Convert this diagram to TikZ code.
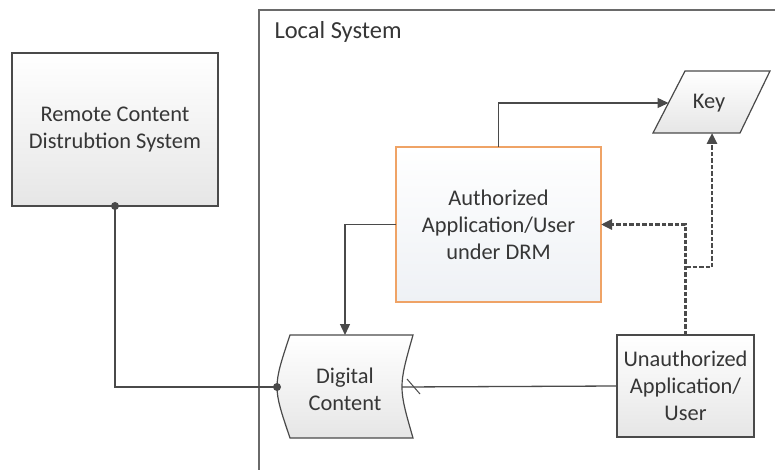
\documentclass[tikz,border=0pt]{standalone}
\usepackage{fontspec}
\setmainfont{Carlito}
\usetikzlibrary{arrows.meta}
\definecolor{linegray}{HTML}{4A4A4A}
\definecolor{framegray}{HTML}{6A6A6A}
\definecolor{textgray}{HTML}{363636}
\definecolor{drmorange}{HTML}{EFA366}
\definecolor{fillbottom}{HTML}{E6E6E6}
\definecolor{drmbottom}{HTML}{EEF1F5}
\begin{document}
\begin{tikzpicture}[x=1pt,y=-1pt,
  label/.style={font=\fontsize{22.4}{27}\selectfont, text=textgray, align=center},
  box/.style={label, draw=linegray, line width=1.2pt, outer sep=0pt, inner sep=0pt,
    top color=white, bottom color=fillbottom},
  drmbox/.style={box, draw=drmorange, top color=white, bottom color=drmbottom},
  shapefill/.style={draw=linegray, line width=1.2pt, top color=white, bottom color=fillbottom},
  conn/.style={draw=linegray, line width=1.3pt},
  tip/.style={-{Triangle[length=11pt,width=10pt]}},
  dashconn/.style={draw=linegray, line width=2.6pt, dash pattern=on 4.5pt off 2pt},
  dot/.style={circle, fill=linegray, inner sep=0pt, minimum size=8pt}]

\useasboundingbox (0,0) rectangle (775,470);

% local system frame
\draw[draw=framegray, line width=1.3pt] (776,10) -- (259,10) -- (259,471);
\node[label, font=\fontsize{24.5}{29}\selectfont, anchor=base west] (localsys) at (271,39) {Local System};

% remote source
\node[box, minimum width=206pt, minimum height=153pt] (remote) at (115,129.5)
  {Remote Content\\Distrubtion System};

% DRM-protected application
\node[drmbox, minimum width=205pt, minimum height=155pt] (drm) at (498.5,224.5)
  {Authorized\\Application/User\\under DRM};

% unauthorized party
\node[box, minimum width=137pt, minimum height=102pt] (unauth) at (685.5,386)
  {Unauthorized\\Application/\\User};

% key (parallelogram)
\path[shapefill] (685,71) -- (770,71) -- (740,133) -- (653,133) -- cycle;
\node[label] (key) at (709,103) {Key};
\coordinate (keyW) at (668.5,103);
\coordinate (keyS) at (712,133);

% digital content (curved sheet)
\path[shapefill] (290,335) -- (413,335)
  .. controls (398.3,387) .. (413,438) -- (290,438)
  .. controls (272.7,387) .. (290,335) -- cycle;
\node[label] (content) at (345,389) {Digital\\Content};
\coordinate (contentW) at (277,387);
\coordinate (contentE) at (402,387);
\coordinate (contentN) at (345,335);

% connectors
\draw[conn] (remote.south) |- (contentW);
\node[dot] (remoteDot) at (remote.south) {};
\node[dot] (contentDot) at (contentW) {};

\draw[conn, tip] (drm.north) |- (keyW);
\draw[conn, tip] (drm.west) -| (contentN);

\draw[conn] (unauth.west) -- (contentE);
\draw[conn, line width=1pt] (407,379) -- (420,394);

\coordinate (branch) at (686,267);
\draw[dashconn, tip] (unauth.north) |- (drm.east);
\draw[dashconn, tip] (branch) -| (keyS);
\end{tikzpicture}
\end{document}
